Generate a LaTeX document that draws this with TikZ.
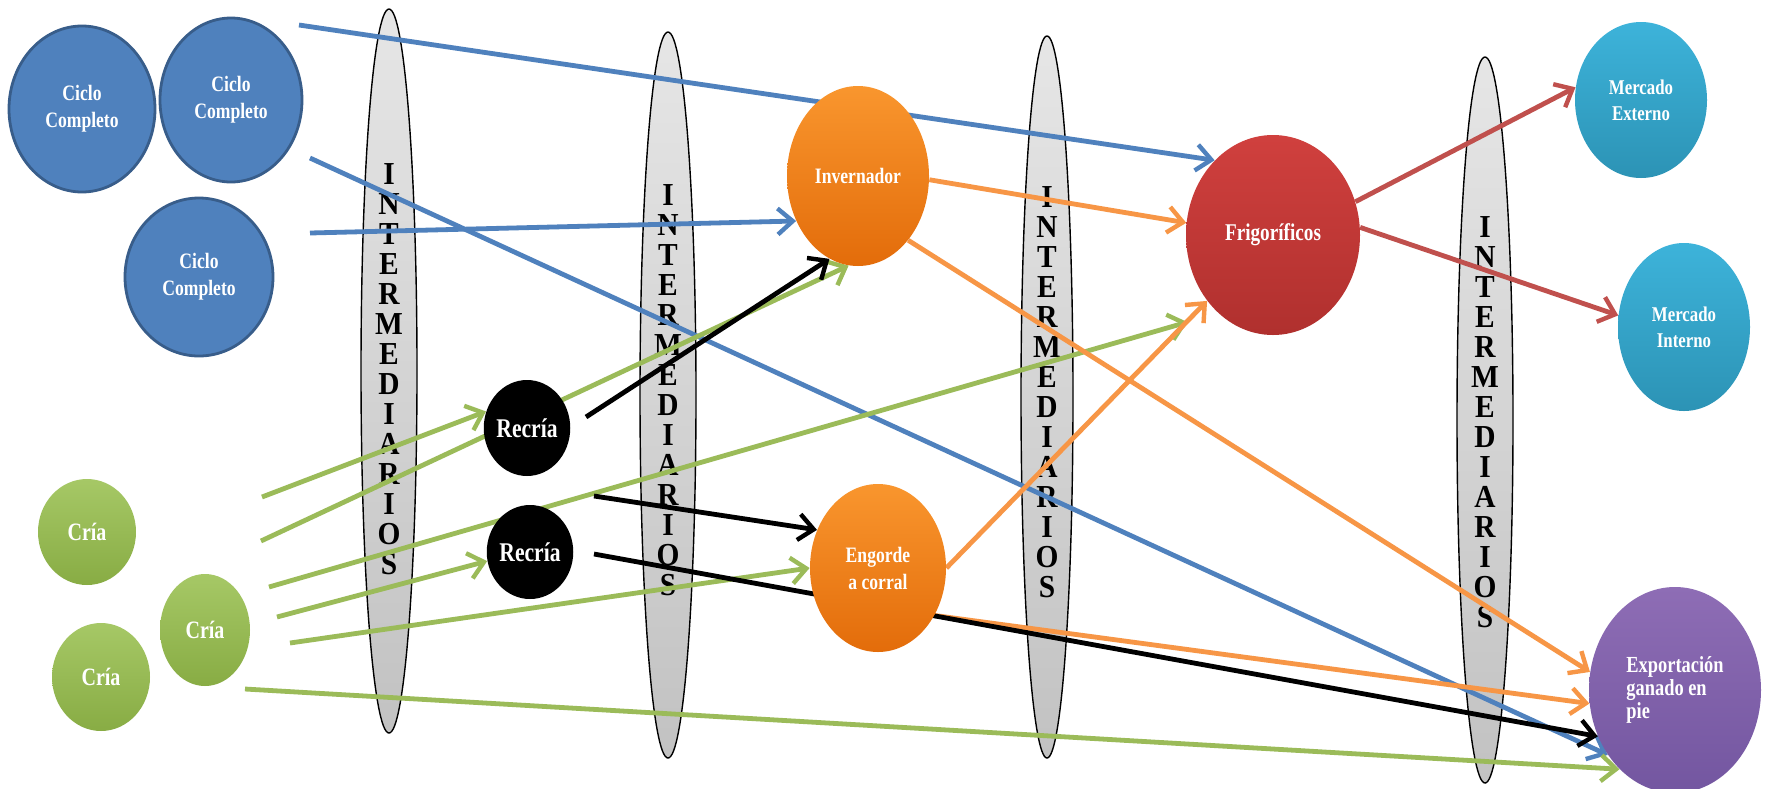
\documentclass[tikz,border=0pt]{standalone}
\usepackage{fontspec}
\usetikzlibrary{shapes.geometric,arrows.meta}
\newfontfamily\ndfont[FakeStretch=0.8]{Liberation Serif}
\newfontfamily\spfont[FakeStretch=0.92]{Liberation Serif}
\pgfdeclarelayer{splayer}
\pgfdeclarelayer{lnlayer}
\pgfsetlayers{splayer,lnlayer,main}
\definecolor{cblue}{HTML}{4F81BD}
\definecolor{cblueb}{HTML}{385D8A}
\definecolor{cgreen}{HTML}{9BBB59}
\definecolor{cgreent}{HTML}{A6C866}
\definecolor{cgreenb}{HTML}{88AC44}
\definecolor{corange}{HTML}{F79646}
\definecolor{corant}{HTML}{F9962E}
\definecolor{coranb}{HTML}{E36C0A}
\definecolor{cred}{HTML}{C0504D}
\definecolor{credt}{HTML}{D0403E}
\definecolor{credb}{HTML}{B0302E}
\definecolor{cteal}{HTML}{4BACC6}
\definecolor{ctealt}{HTML}{3DB3DA}
\definecolor{ctealb}{HTML}{2C93B5}
\definecolor{cpurt}{HTML}{8E6DB5}
\definecolor{cpurb}{HTML}{7356A0}
\definecolor{spt}{HTML}{E6E6E6}
\definecolor{spb}{HTML}{C2C2C2}
\tikzset{
  bub/.style={ellipse, inner sep=0pt, text=white, align=center,
    font=\ndfont\bfseries\fontsize{11}{13.5}\selectfont},
  bluebub/.style={bub, fill=cblue, draw=cblueb, line width=1.4pt},
  greenbub/.style={bub, top color=cgreent, bottom color=cgreenb,
    font=\ndfont\bfseries\fontsize{12.5}{14}\selectfont},
  orangebub/.style={bub, top color=corant, bottom color=coranb},
  blackbub/.style={bub, fill=black,
    font=\ndfont\bfseries\fontsize{13.5}{15}\selectfont},
  redbub/.style={bub, top color=credt, bottom color=credb,
    font=\ndfont\bfseries\fontsize{12}{14}\selectfont},
  tealbub/.style={bub, top color=ctealt, bottom color=ctealb,
    font=\ndfont\bfseries\fontsize{10.5}{13}\selectfont},
  purplebub/.style={bub, top color=cpurt, bottom color=cpurb},
  spindle/.style={ellipse, draw=black, line width=0.7pt, inner sep=0pt,
    top color=spt, bottom color=spb},
  sptext/.style={align=center, inner sep=0pt,
    font=\spfont\bfseries\fontsize{16}{15}\selectfont},
  ln/.style={line width=2.4pt},
  arr/.style={ln, -{Straight Barb[length=7.5pt,width=13pt,line width=2.2pt]}},
}
\begin{document}
\begin{tikzpicture}[x=0.5pt,y=-0.5pt]
\useasboundingbox (0,0) rectangle (1767,788);
\begin{pgfonlayer}{splayer}
\fill[white] (0,0) rectangle (1767,788);
\node[spindle, minimum width=28pt, minimum height=362pt] (s1) at (389,371) {};
\node[spindle, minimum width=28pt, minimum height=363pt] (s2) at (668,395) {};
\node[spindle, minimum width=26pt, minimum height=361pt] (s3) at (1047,397) {};
\node[spindle, minimum width=28pt, minimum height=363pt] (s4) at (1485,420) {};
\node[sptext] (t1) at (389,369) {I\\N\\T\\E\\R\\M\\E\\D\\I\\A\\R\\I\\O\\S};
\node[sptext] (t2) at (668,390) {I\\N\\T\\E\\R\\M\\E\\D\\I\\A\\R\\I\\O\\S};
\node[sptext] (t3) at (1047,392) {I\\N\\T\\E\\R\\M\\E\\D\\I\\A\\R\\I\\O\\S};
\node[sptext] (t4) at (1485,422) {I\\N\\T\\E\\R\\M\\E\\D\\I\\A\\R\\I\\O\\S};
\end{pgfonlayer}

% nodes
\node[bluebub, minimum width=73pt, minimum height=83pt] (cc1) at (82,109) {Ciclo\\Completo};
\node[bluebub, minimum width=71pt, minimum height=82pt] (cc2) at (231,100) {Ciclo\\Completo};
\node[bluebub, minimum width=74pt, minimum height=79pt] (cc3) at (199,277) {Ciclo\\Completo};
\node[greenbub, minimum width=49pt, minimum height=53pt] (cr1) at (87,532) {Cría};
\node[greenbub, minimum width=45pt, minimum height=56pt] (cr2) at (205,630) {Cría};
\node[greenbub, minimum width=49pt, minimum height=54pt] (cr3) at (101,677) {Cría};
\node[blackbub, minimum width=43pt, minimum height=48pt] (rc1) at (527,428) {Recría};
\node[blackbub, minimum width=42pt, minimum height=47pt] (rc2) at (530,552) {Recría};
\node[orangebub, minimum width=71pt, minimum height=90pt] (inv) at (858,176) {Invernador};
\node[orangebub, minimum width=68pt, minimum height=84pt] (eng) at (878,568) {Engorde\\a corral};
\node[redbub, minimum width=87pt, minimum height=100pt] (fri) at (1273,235) {Frigoríficos};
\node[tealbub, minimum width=66pt, minimum height=78pt] (mext) at (1641,100) {Mercado\\Externo};
\node[tealbub, minimum width=66pt, minimum height=84pt] (mint) at (1684,327) {Mercado\\Interno};
\node[purplebub, minimum width=86pt, minimum height=103pt, align=left,
  font=\ndfont\bfseries\fontsize{11.5}{11.5}\selectfont] (exp) at (1675,690) {Exportación\\ganado en\\pie};

% free ends
\coordinate (b1s) at (299,25);
\coordinate (b2s) at (310,158);
\coordinate (b3s) at (310,233);
\coordinate (g1s) at (262,497);
\coordinate (g2s) at (261,541);
\coordinate (g3s) at (269,587);
\coordinate (g4s) at (277,617);
\coordinate (g5s) at (290,643);
\coordinate (g6s) at (245,689);
\coordinate (k1s) at (586,417);
\coordinate (k2s) at (594,496);
\coordinate (k3s) at (594,554);

\begin{pgfonlayer}{lnlayer}
% blue
\draw[arr, cblue] (b1s) -- (fri.128);
\draw[arr, cblue] (b2s) -- (exp.224);
\draw[arr, cblue] (b3s) -- (inv.216);
% green
\draw[arr, cgreen] (g1s) -- (rc1.158);
\draw[arr, cgreen] (g2s) -- (inv.264);
\draw[arr, cgreen, shorten >=16pt] (g3s) -- (fri.235);
\draw[arr, cgreen] (g4s) -- (rc2.192);
\draw[arr, cgreen] (g5s) -- (eng.180);
\draw[arr, cgreen] (g6s) -- (exp.235);
% orange
\draw[arr, corange] (inv.357) -- (fri.172);
\draw[arr, corange] (inv.308) -- (exp.168);
\draw[arr, corange] (eng.0) -- (fri.225);
\draw[arr, corange] (eng.320) -- (exp.189);
% black
\draw[arr, black] (k1s) -- (inv.251);
\draw[arr, black] (k2s) -- (eng.148);
\draw[arr, black] (k3s) -- (exp.211);
% red
\draw[arr, cred] (fri.22) -- (mext.169);
\draw[arr, cred] (fri.5) -- (mint.170);
\end{pgfonlayer}
\end{tikzpicture}
\end{document}
